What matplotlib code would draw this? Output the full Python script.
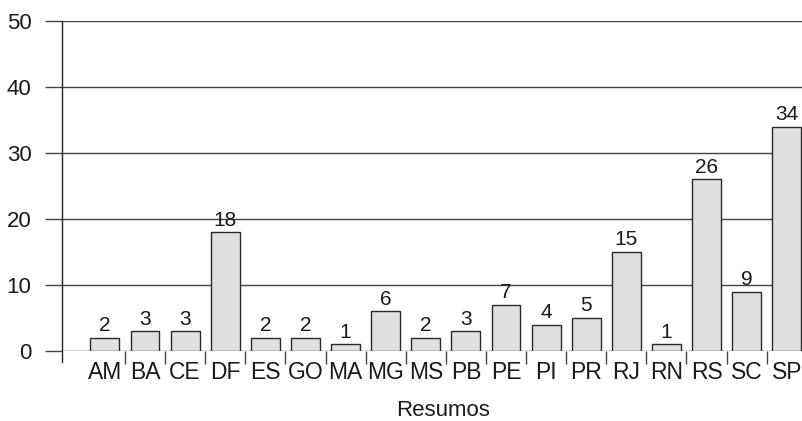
import matplotlib
matplotlib.use('Agg')
import matplotlib.pyplot as plt
import numpy as np

# ------------------ Data ------------------
estados = ['AM', 'BA', 'CE', 'DF', 'ES', 'GO', 'MA', 'MG', 'MS',
           'PB', 'PE', 'PI', 'PR', 'RJ', 'RN', 'RS', 'SC', 'SP']
resumos = [2, 3, 3, 18, 2, 2, 1, 6, 2, 3, 7, 4, 5, 15, 1, 26, 9, 34]
y_ticks = [0, 10, 20, 30, 40, 50]

plt.rcParams['font.family'] = ['Liberation Sans', 'DejaVu Sans']

fig = plt.figure(figsize=(8.02, 4.21), dpi=100)
ax = fig.add_axes([62 / 802, 70 / 421, 740 / 802, 330 / 421])

pos = np.arange(len(estados))
bars = ax.bar(pos, resumos, width=0.72, color='#e0e0e0',
              edgecolor='#2a2a2a', linewidth=1.0, zorder=2)

# value labels above bars
for b, v in zip(bars, resumos):
    ax.text(b.get_x() + b.get_width() / 2, v + 0.4, str(v),
            ha='center', va='bottom', fontsize=15, color='#1a1a1a')

ax.set_xlim(-1.07, len(estados) - 1 + 0.38)
ax.set_ylim(0, 50)
ax.set_yticks(y_ticks)
ax.set_yticklabels([str(t) for t in y_ticks], fontsize=16, color='#1a1a1a')
ax.tick_params(axis='y', length=12, width=1, color='#444444', pad=10)

ax.set_xticks(pos)
ax.set_xticklabels(estados, fontsize=16.5, color='#1a1a1a')
ax.tick_params(axis='x', which='major', length=0, pad=7)
ax.set_xticks(pos[:-1] + 0.5, minor=True)
ax.tick_params(axis='x', which='minor', length=9, width=1, color='#444444')

ax.yaxis.grid(True, color='#444444', linewidth=1)
ax.set_axisbelow(True)

for s in ['top', 'right', 'bottom']:
    ax.spines[s].set_visible(False)
ax.spines['left'].set_color('#222222')
ax.spines['left'].set_linewidth(1)
ax.spines['left'].set_bounds(-1.6, 50)

fig.text(443 / 802, (421 - 410) / 421, 'Resumos', ha='center', va='center',
         fontsize=16, color='#1a1a1a')

fig.savefig('out.png', dpi=100)
